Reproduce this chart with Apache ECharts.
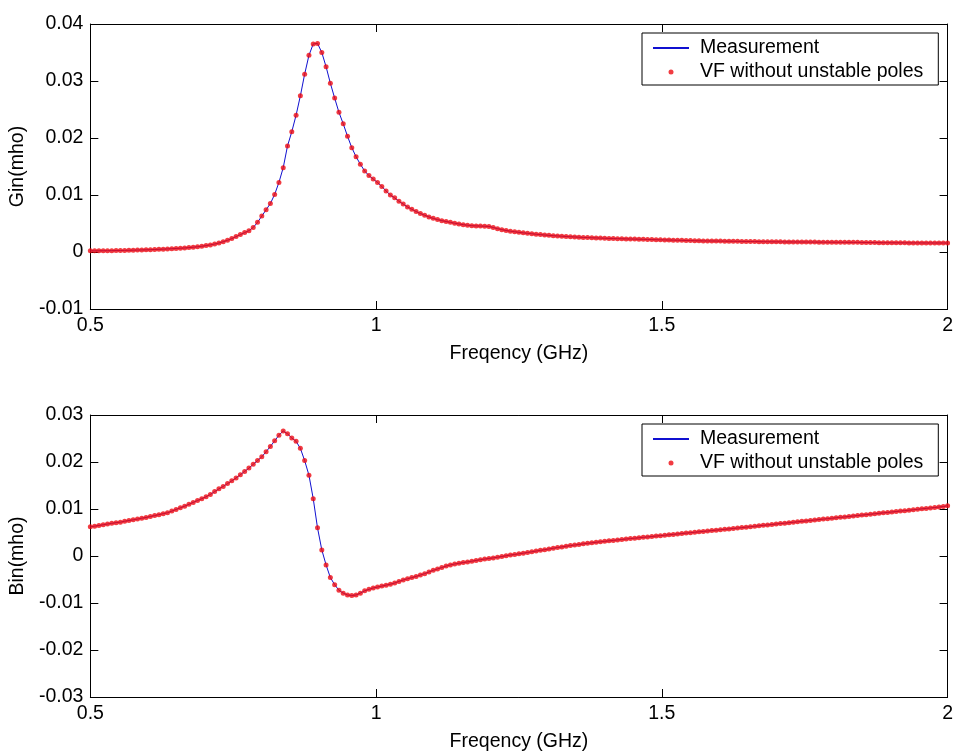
<!DOCTYPE html>
<html><head><meta charset="utf-8">
<script src="https://cdn.jsdelivr.net/npm/echarts@6/dist/echarts.min.js"></script>
<style>html,body{margin:0;padding:0;background:#fff}#c{width:956px;height:753px}</style>
</head><body><div id="c"></div>
<script>
const freqGHz = [
0.5,0.5075,0.515,0.5225,0.53,0.5375,0.545,0.5525,0.56,0.5675,
0.575,0.5825,0.59,0.5975,0.605,0.6125,0.62,0.6275,0.635,0.6425,
0.65,0.6575,0.665,0.6725,0.68,0.6875,0.695,0.7025,0.71,0.7175,
0.725,0.7325,0.74,0.7475,0.755,0.7625,0.77,0.7775,0.785,0.7925,
0.8,0.8075,0.815,0.8225,0.83,0.8375,0.845,0.8525,0.86,0.8675,
0.875,0.8825,0.89,0.8975,0.905,0.9125,0.92,0.9275,0.935,0.9425,
0.95,0.9575,0.965,0.9725,0.98,0.9875,0.995,1.0025,1.01,1.0175,
1.025,1.0325,1.04,1.0475,1.055,1.0625,1.07,1.0775,1.085,1.0925,
1.1,1.1075,1.115,1.1225,1.13,1.1375,1.145,1.1525,1.16,1.1675,
1.175,1.1825,1.19,1.1975,1.205,1.2125,1.22,1.2275,1.235,1.2425,
1.25,1.2575,1.265,1.2725,1.28,1.2875,1.295,1.3025,1.31,1.3175,
1.325,1.3325,1.34,1.3475,1.355,1.3625,1.37,1.3775,1.385,1.3925,
1.4,1.4075,1.415,1.4225,1.43,1.4375,1.445,1.4525,1.46,1.4675,
1.475,1.4825,1.49,1.4975,1.505,1.5125,1.52,1.5275,1.535,1.5425,
1.55,1.5575,1.565,1.5725,1.58,1.5875,1.595,1.6025,1.61,1.6175,
1.625,1.6325,1.64,1.6475,1.655,1.6625,1.67,1.6775,1.685,1.6925,
1.7,1.7075,1.715,1.7225,1.73,1.7375,1.745,1.7525,1.76,1.7675,
1.775,1.7825,1.79,1.7975,1.805,1.8125,1.82,1.8275,1.835,1.8425,
1.85,1.8575,1.865,1.8725,1.88,1.8875,1.895,1.9025,1.91,1.9175,
1.925,1.9325,1.94,1.9475,1.955,1.9625,1.97,1.9775,1.985,1.9925,
2.0];

const ginMeasurement = [
0.00020,0.00020,0.00021,0.00022,0.00023,0.00024,0.00025,0.00026,0.00028,0.00030,
0.00032,0.00034,0.00036,0.00038,0.00041,0.00044,0.00047,0.00050,0.00054,0.00058,
0.00062,0.00066,0.00071,0.00077,0.00084,0.00092,0.00101,0.00112,0.00125,0.00140,
0.00158,0.00180,0.00205,0.00235,0.00270,0.00305,0.00340,0.00375,0.00430,0.00520,
0.00630,0.00740,0.00850,0.01010,0.01220,0.01480,0.01860,0.02110,0.02400,0.02740,
0.03120,0.03450,0.03650,0.03660,0.03500,0.03250,0.02960,0.02700,0.02450,0.02250,
0.02030,0.01830,0.01670,0.01540,0.01420,0.01340,0.01280,0.01220,0.01150,0.01070,
0.01000,0.00950,0.00890,0.00840,0.00790,0.00750,0.00710,0.00675,0.00645,0.00615,
0.00590,0.00568,0.00550,0.00535,0.00520,0.00505,0.00492,0.00480,0.00470,0.00462,
0.00458,0.00455,0.00452,0.00448,0.00430,0.00410,0.00392,0.00378,0.00365,0.00355,
0.00345,0.00336,0.00328,0.00320,0.00312,0.00305,0.00298,0.00292,0.00287,0.00282,
0.00277,0.00272,0.00268,0.00264,0.00260,0.00256,0.00253,0.00250,0.00247,0.00244,
0.00241,0.00238,0.00236,0.00234,0.00232,0.00230,0.00228,0.00226,0.00224,0.00222,
0.00220,0.00218,0.00216,0.00214,0.00212,0.00210,0.00208,0.00206,0.00204,0.00202,
0.00200,0.00198,0.00196,0.00195,0.00194,0.00193,0.00192,0.00191,0.00190,0.00189,
0.00188,0.00187,0.00186,0.00185,0.00184,0.00183,0.00182,0.00181,0.00180,0.00179,
0.00178,0.00178,0.00177,0.00177,0.00176,0.00176,0.00175,0.00175,0.00174,0.00174,
0.00173,0.00173,0.00172,0.00172,0.00171,0.00171,0.00170,0.00170,0.00169,0.00169,
0.00168,0.00167,0.00166,0.00165,0.00164,0.00163,0.00163,0.00162,0.00162,0.00161,
0.00161,0.00160,0.00160,0.00160,0.00159,0.00159,0.00159,0.00158,0.00158,0.00158,
0.00157];
const ginVF = ginMeasurement;

const binMeasurement = [
0.00620,0.00635,0.00650,0.00665,0.00680,0.00695,0.00710,0.00720,0.00740,0.00755,
0.00770,0.00785,0.00805,0.00820,0.00840,0.00860,0.00880,0.00900,0.00920,0.00955,
0.00990,0.01025,0.01060,0.01100,0.01140,0.01180,0.01220,0.01260,0.01310,0.01370,
0.01430,0.01480,0.01540,0.01600,0.01660,0.01730,0.01800,0.01870,0.01950,0.02030,
0.02110,0.02220,0.02330,0.02450,0.02570,0.02660,0.02600,0.02510,0.02440,0.02290,
0.02030,0.01720,0.01220,0.00600,0.00130,-0.00190,-0.00460,-0.00610,-0.00730,-0.00790,
-0.00830,-0.00840,-0.00830,-0.00790,-0.00740,-0.00710,-0.00680,-0.00660,-0.00640,-0.00620,
-0.00600,-0.00575,-0.00540,-0.00510,-0.00485,-0.00460,-0.00435,-0.00405,-0.00375,-0.00340,
-0.00305,-0.00275,-0.00245,-0.00215,-0.00190,-0.00170,-0.00155,-0.00140,-0.00125,-0.00110,
-0.00095,-0.00078,-0.00065,-0.00052,-0.00040,-0.00025,-0.00010,0.00005,0.00020,0.00033,
0.00046,0.00060,0.00075,0.00090,0.00105,0.00120,0.00135,0.00150,0.00165,0.00180,
0.00194,0.00208,0.00221,0.00234,0.00246,0.00258,0.00270,0.00281,0.00292,0.00302,
0.00312,0.00322,0.00332,0.00342,0.00352,0.00361,0.00370,0.00379,0.00388,0.00397,
0.00406,0.00415,0.00424,0.00433,0.00442,0.00451,0.00460,0.00469,0.00478,0.00487,
0.00496,0.00505,0.00514,0.00523,0.00532,0.00541,0.00550,0.00559,0.00568,0.00577,
0.00586,0.00595,0.00604,0.00614,0.00623,0.00633,0.00642,0.00652,0.00661,0.00671,
0.00680,0.00690,0.00699,0.00709,0.00718,0.00728,0.00737,0.00747,0.00756,0.00766,
0.00775,0.00785,0.00794,0.00804,0.00813,0.00823,0.00832,0.00842,0.00851,0.00861,
0.00870,0.00880,0.00889,0.00899,0.00908,0.00918,0.00927,0.00937,0.00946,0.00956,
0.00965,0.00975,0.00984,0.00994,0.01003,0.01013,0.01022,0.01032,0.01041,0.01051,
0.01070];
const binVF = binMeasurement;

const seriesNames = ['Measurement', 'VF without unstable poles'];
const xAxisName = 'Freqency (GHz)';
const yAxisNames = ['Gin(mho)', 'Bin(mho)'];
const xRange = [0.5, 2, 0.5];
const yRanges = [[-0.01, 0.04, 0.01], [-0.03, 0.03, 0.01]];

const FONT = "Arial, 'Liberation Sans', sans-serif";
const FS = 19.5;
const AXC = '#000';

function pairs(xs, ys) { return xs.map((x, i) => [x, ys[i]]); }

const grids = [
  { left: 90, top: 24, width: 860, height: 285 },
  { left: 90, top: 415, width: 860, height: 286 }
];

const xAxes = [], yAxes = [], series = [], legends = [];
const tickStyle = { show: true, inside: true, length: 8, lineStyle: { color: AXC, width: 1 } };
const lineStyleAx = { show: true, onZero: false, lineStyle: { color: AXC, width: 1 } };
const labelStyle = { color: '#000', fontFamily: FONT, fontSize: FS };

[0, 1].forEach(g => {
  xAxes.push({
    type: 'value', gridIndex: g, position: 'bottom',
    min: xRange[0], max: xRange[1], interval: xRange[2],
    axisLine: lineStyleAx, axisTick: tickStyle, splitLine: { show: false },
    axisLabel: Object.assign({ margin: 7 }, labelStyle),
    name: xAxisName, nameLocation: 'middle', nameGap: 35,
    nameTextStyle: { color: '#000', fontFamily: FONT, fontSize: FS }
  });
  xAxes.push({
    type: 'value', gridIndex: g, position: 'top',
    min: xRange[0], max: xRange[1], interval: xRange[2],
    axisLine: lineStyleAx, axisTick: tickStyle, splitLine: { show: false },
    axisLabel: { show: false }
  });
  yAxes.push({
    type: 'value', gridIndex: g, position: 'left',
    min: yRanges[g][0], max: yRanges[g][1], interval: yRanges[g][2],
    axisLine: lineStyleAx, axisTick: tickStyle, splitLine: { show: false },
    axisLabel: Object.assign({ margin: 7 }, labelStyle),
    name: yAxisNames[g], nameLocation: 'middle', nameGap: 54,
    nameTextStyle: { color: '#000', fontFamily: FONT, fontSize: FS }
  });
  yAxes.push({
    type: 'value', gridIndex: g, position: 'right',
    min: yRanges[g][0], max: yRanges[g][1], interval: yRanges[g][2],
    axisLine: lineStyleAx, axisTick: tickStyle, splitLine: { show: false },
    axisLabel: { show: false }
  });
});

const meas = [ginMeasurement, binMeasurement];
const fits = [ginVF, binVF];
[0, 1].forEach(g => {
  series.push({
    type: 'line', name: seriesNames[0], xAxisIndex: g * 2, yAxisIndex: g * 2,
    data: pairs(freqGHz, meas[g]), symbol: 'none', silent: true, animation: false,
    lineStyle: { color: '#1010d0', width: 1 }, itemStyle: { color: '#1010d0' }, z: 2
  });
  series.push({
    type: 'scatter', name: seriesNames[1], xAxisIndex: g * 2, yAxisIndex: g * 2,
    data: pairs(freqGHz, fits[g]), symbol: 'circle', symbolSize: 5, silent: true, animation: false,
    itemStyle: { color: '#ee0a12' }, z: 3
  });
});

[33, 424].forEach(top => {
  legends.push({
    orient: 'vertical', left: 642, top: top,
    data: [
      { name: seriesNames[0], itemStyle: { opacity: 0 } },
      { name: seriesNames[1] }
    ],
    itemWidth: 36, itemHeight: 5, itemGap: 4,
    padding: [5, 15, 3, 10],
    borderColor: '#000', borderWidth: 1, backgroundColor: '#fff',
    selectedMode: false,
    textStyle: { color: '#000', fontFamily: FONT, fontSize: FS, padding: [0, 0, 0, 6] }
  });
});

const chart = echarts.init(document.getElementById('c'), null, { renderer: 'canvas' });
chart.setOption({
  backgroundColor: '#fff',
  animation: false,
  grid: grids,
  xAxis: xAxes,
  yAxis: yAxes,
  legend: legends,
  series: series
});
</script>
</body></html>
